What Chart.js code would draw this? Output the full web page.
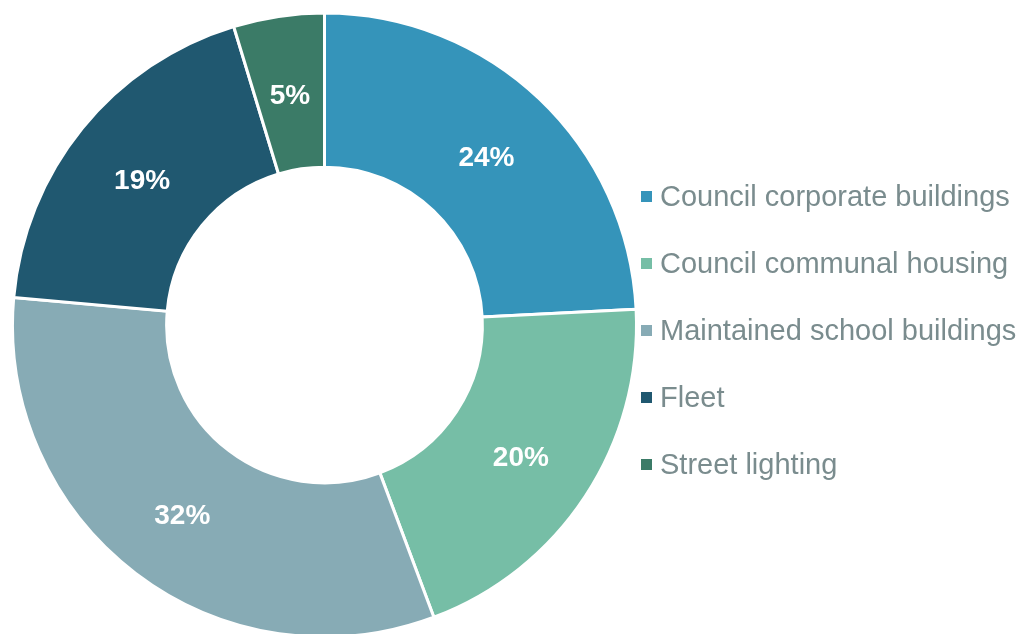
<!DOCTYPE html>
<html>
<head>
<meta charset="utf-8">
<script src="https://cdn.jsdelivr.net/npm/chart.js@4.4.1/dist/chart.umd.min.js"></script>
<style>
  html, body { margin: 0; padding: 0; background: #fff; overflow: hidden; }
  #wrap { position: relative; width: 1026px; height: 634px; overflow: hidden; }
  #chart { position: absolute; left: 0; top: 0; }
  #legend { position: absolute; left: 641px; top: 179px; font-family: "Liberation Sans", Arial, sans-serif; font-size: 29px; color: #7a8c8e; }
  .item { height: 67px; display: flex; align-items: flex-start; }
  .item span.box { width: 11px; height: 11px; margin-top: 12px; margin-right: 8px; flex: none; }
  .item span.txt { line-height: 34px; white-space: nowrap; }
</style>
</head>
<body>
<div id="wrap">
  <canvas id="chart" width="1026" height="640"></canvas>
  <div id="legend"></div>
</div>
<script>
// data
const categories = ["Council corporate buildings", "Council communal housing", "Maintained school buildings", "Fleet", "Street lighting"];
const shares = [24.2, 20.1, 32.1, 18.9, 4.7];
const colours = ["#3594ba", "#76bea6", "#87abb5", "#205870", "#3b7b67"];

/* ========= LABELS ON SLICES ========= */
const sliceLabels = {
  id: "sliceLabels",
  afterDatasetsDraw(chart) {
    const ctx = chart.ctx;
    const meta = chart.getDatasetMeta(0);
    const total = shares.reduce((a, b) => a + b, 0);
    ctx.save();
    ctx.fillStyle = "#ffffff";
    ctx.font = "bold 28px 'Liberation Sans', Arial, sans-serif";
    ctx.textAlign = "center";
    ctx.textBaseline = "middle";
    meta.data.forEach((arc, i) => {
      const p = arc.tooltipPosition();
      ctx.fillText(Math.round(shares[i] / total * 100) + "%", p.x, p.y + 4);
    });
    ctx.restore();
  }
};

new Chart(document.getElementById("chart"), {
  type: "doughnut",
  data: {
    labels: categories,
    datasets: [{
      data: shares,
      backgroundColor: colours,
      borderColor: "#ffffff",
      borderWidth: 3,
      hoverOffset: 0
    }]
  },
  options: {
    responsive: false,
    animation: false,
    cutout: "50.6%",
    layout: { padding: { left: 11, top: 11.5, right: 388, bottom: 1.5 } },
    plugins: { legend: { display: false }, tooltip: { enabled: false } }
  },
  plugins: [sliceLabels]
});

/* ========= LEGEND ========= */
const legend = document.getElementById("legend");
categories.forEach((name, i) => {
  const row = document.createElement("div");
  row.className = "item";
  row.innerHTML = '<span class="box" style="background:' + colours[i] + '"></span><span class="txt">' + name + '</span>';
  legend.appendChild(row);
});
</script>
</body>
</html>
